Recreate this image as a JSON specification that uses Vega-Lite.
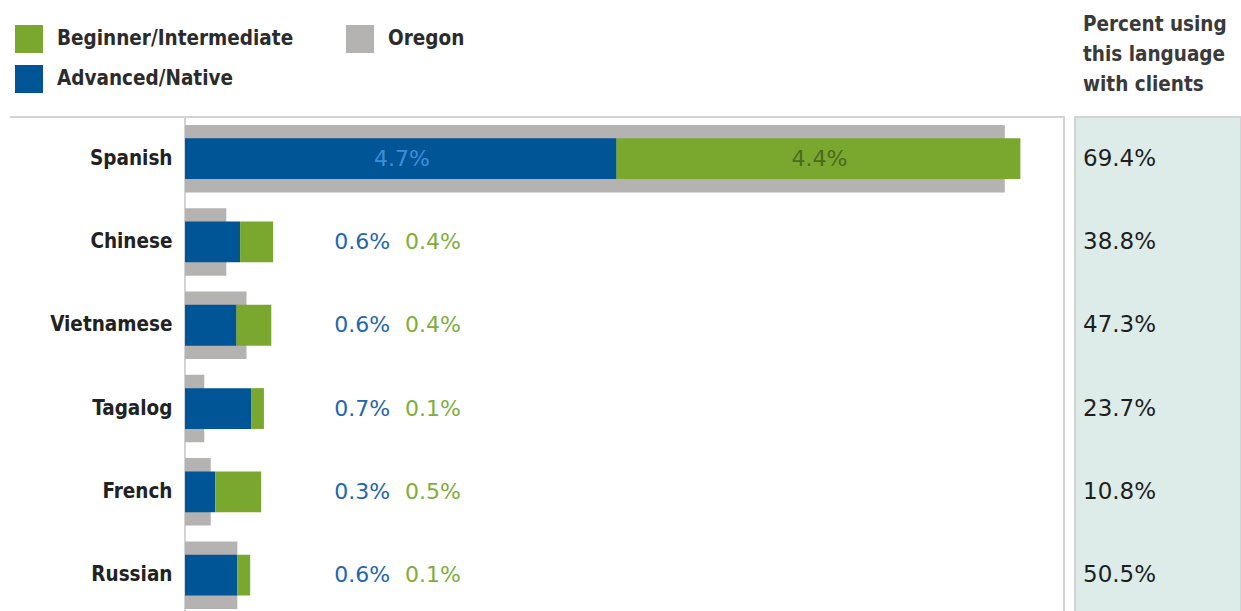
{
  "$schema": "https://vega.github.io/schema/vega-lite/v6.json",
  "autosize": {"type": "none"},
  "padding": {"left": 185, "top": 117, "right": 1056, "bottom": 494},
  "background": "white",
  "spacing": 11,
  "bounds": "flush",
  "config": {
    "legend": {"orient": "none", "direction": "horizontal", "legendX": -170, "legendY": -92, "title": null, "columns": 2, "symbolType": "square", "symbolSize": 784, "symbolStrokeWidth": 0, "labelFont": "DejaVu Sans Condensed", "labelFontWeight": "bold", "labelFontSize": 20.5, "labelColor": "#2b2b2b", "labelOffset": 14, "labelLimit": 400, "columnPadding": 52, "rowPadding": 12, "padding": 0}
  },
  "datasets": {
    "bars": [
      {"lang": "Spanish", "series": "Advanced/Native", "value": 0.047},
      {"lang": "Spanish", "series": "Beginner/Intermediate", "value": 0.044},
      {"lang": "Chinese", "series": "Advanced/Native", "value": 0.006},
      {"lang": "Chinese", "series": "Beginner/Intermediate", "value": 0.0036},
      {"lang": "Vietnamese", "series": "Advanced/Native", "value": 0.0056},
      {"lang": "Vietnamese", "series": "Beginner/Intermediate", "value": 0.0038},
      {"lang": "Tagalog", "series": "Advanced/Native", "value": 0.0072},
      {"lang": "Tagalog", "series": "Beginner/Intermediate", "value": 0.0014},
      {"lang": "French", "series": "Advanced/Native", "value": 0.0033},
      {"lang": "French", "series": "Beginner/Intermediate", "value": 0.005},
      {"lang": "Russian", "series": "Advanced/Native", "value": 0.0057},
      {"lang": "Russian", "series": "Beginner/Intermediate", "value": 0.0014}
    ],
    "oregon": [
      {"lang": "Spanish", "value": 0.0893},
      {"lang": "Chinese", "value": 0.0045},
      {"lang": "Vietnamese", "value": 0.0067},
      {"lang": "Tagalog", "value": 0.0021},
      {"lang": "French", "value": 0.0028},
      {"lang": "Russian", "value": 0.0057}
    ],
    "clients": [
      {"lang": "Spanish", "pct": 0.694},
      {"lang": "Chinese", "pct": 0.388},
      {"lang": "Vietnamese", "pct": 0.473},
      {"lang": "Tagalog", "pct": 0.237},
      {"lang": "French", "pct": 0.108},
      {"lang": "Russian", "pct": 0.505}
    ]
  },
  "hconcat": [
    {
      "width": 879,
      "height": {"step": 83.3},
      "view": {"stroke": "#d3d3d3", "strokeWidth": 2},
      "encoding": {
        "y": {
          "field": "lang", "type": "nominal",
          "sort": ["Spanish", "Chinese", "Vietnamese", "Tagalog", "French", "Russian"],
          "scale": {"type": "band", "paddingInner": 0, "paddingOuter": 0},
          "axis": {"title": null, "ticks": false, "domain": false, "labelFont": "DejaVu Sans Condensed", "labelFontWeight": "bold", "labelFontSize": 20.5, "labelColor": "#222222", "labelPadding": 13, "labelLimit": 300}
        }
      },
      "layer": [
        {
          "data": {"name": "oregon"},
          "transform": [{"filter": "datum.lang === 'Spanish'"}],
          "mark": {"type": "rule", "color": "#d3d3d3", "strokeWidth": 2},
          "encoding": {
            "x": {"datum": -0.01907, "type": "quantitative", "scale": {"domain": [0, 0.09575], "nice": false, "zero": false}, "axis": null},
            "x2": {"datum": 0},
            "y": {"field": "lang", "type": "nominal", "bandPosition": 0}
          }
        },
        {
          "data": {"name": "oregon"},
          "mark": {"type": "bar", "height": {"band": 0.81}},
          "encoding": {
            "x": {"field": "value", "type": "quantitative", "scale": {"domain": [0, 0.09575], "nice": false}, "axis": null},
            "color": {
              "datum": "Oregon", "type": "nominal",
              "scale": {"domain": ["Beginner/Intermediate", "Oregon", "Advanced/Native"], "range": ["#7aa82f", "#b5b3b1", "#005596"]}
            }
          }
        },
        {
          "data": {"name": "bars"},
          "transform": [{"stack": "value", "groupby": ["lang"], "sort": [{"field": "series"}], "as": ["v0", "v1"]}],
          "mark": {"type": "bar", "height": {"band": 0.49}},
          "encoding": {
            "x": {"field": "v0", "type": "quantitative"},
            "x2": {"field": "v1"},
            "color": {
              "field": "series", "type": "nominal",
              "scale": {"domain": ["Beginner/Intermediate", "Oregon", "Advanced/Native"], "range": ["#7aa82f", "#b5b3b1", "#005596"]}
            }
          }
        },
        {
          "data": {"name": "bars"},
          "transform": [{"filter": "datum.lang !== 'Spanish' && datum.series === 'Advanced/Native'"}],
          "mark": {"type": "text", "font": "DejaVu Sans", "fontSize": 22, "color": "#2466ae", "align": "center", "baseline": "middle"},
          "encoding": {
            "x": {"datum": 0.0193, "type": "quantitative"},
            "text": {"field": "value", "type": "quantitative", "format": ".1%"}
          }
        },
        {
          "data": {"name": "bars"},
          "transform": [{"filter": "datum.lang !== 'Spanish' && datum.series === 'Beginner/Intermediate'"}],
          "mark": {"type": "text", "font": "DejaVu Sans", "fontSize": 22, "color": "#80ae3a", "align": "center", "baseline": "middle"},
          "encoding": {
            "x": {"datum": 0.027, "type": "quantitative"},
            "text": {"field": "value", "type": "quantitative", "format": ".1%"}
          }
        },
        {
          "data": {"name": "bars"},
          "transform": [
            {"stack": "value", "groupby": ["lang"], "sort": [{"field": "series"}], "as": ["v0", "v1"]},
            {"filter": "datum.lang === 'Spanish' && datum.series === 'Advanced/Native'"}
          ],
          "mark": {"type": "text", "font": "DejaVu Sans", "fontSize": 22, "align": "center", "baseline": "middle", "dx": 217, "color": "#3b8fd9"},
          "encoding": {
            "x": {"field": "v0", "type": "quantitative"},
            "text": {"field": "value", "type": "quantitative", "format": ".1%"}
          }
        },
        {
          "data": {"name": "bars"},
          "transform": [
            {"stack": "value", "groupby": ["lang"], "sort": [{"field": "series"}], "as": ["v0", "v1"]},
            {"filter": "datum.lang === 'Spanish' && datum.series === 'Beginner/Intermediate'"}
          ],
          "mark": {"type": "text", "font": "DejaVu Sans", "fontSize": 22, "align": "center", "baseline": "middle", "dx": 203, "color": "#4c6b1e"},
          "encoding": {
            "x": {"field": "v0", "type": "quantitative"},
            "text": {"field": "value", "type": "quantitative", "format": ".1%"}
          }
        }
      ]
    },
    {
      "width": 166,
      "height": {"step": 83.3},
      "view": {"fill": "#deece9", "stroke": "#d3d3d3", "strokeWidth": 2},
      "title": {"text": ["Percent using", "this language", "with clients"], "anchor": "start", "dx": 8, "offset": 22, "font": "DejaVu Sans Condensed", "fontWeight": "bold", "fontSize": 20.5, "color": "#3a3a3a", "lineHeight": 30},
      "data": {"name": "clients"},
      "mark": {"type": "text", "align": "left", "baseline": "middle", "dx": 8, "font": "DejaVu Sans", "fontSize": 23, "color": "#1e1e1e"},
      "encoding": {
        "y": {"field": "lang", "type": "nominal", "sort": ["Spanish", "Chinese", "Vietnamese", "Tagalog", "French", "Russian"], "scale": {"type": "band", "paddingInner": 0, "paddingOuter": 0}, "bandPosition": 0.5, "axis": null},
        "x": {"datum": 0, "type": "quantitative", "scale": {"domain": [0, 1]}, "axis": null},
        "text": {"field": "pct", "type": "quantitative", "format": ".1%"}
      }
    }
  ]
}
